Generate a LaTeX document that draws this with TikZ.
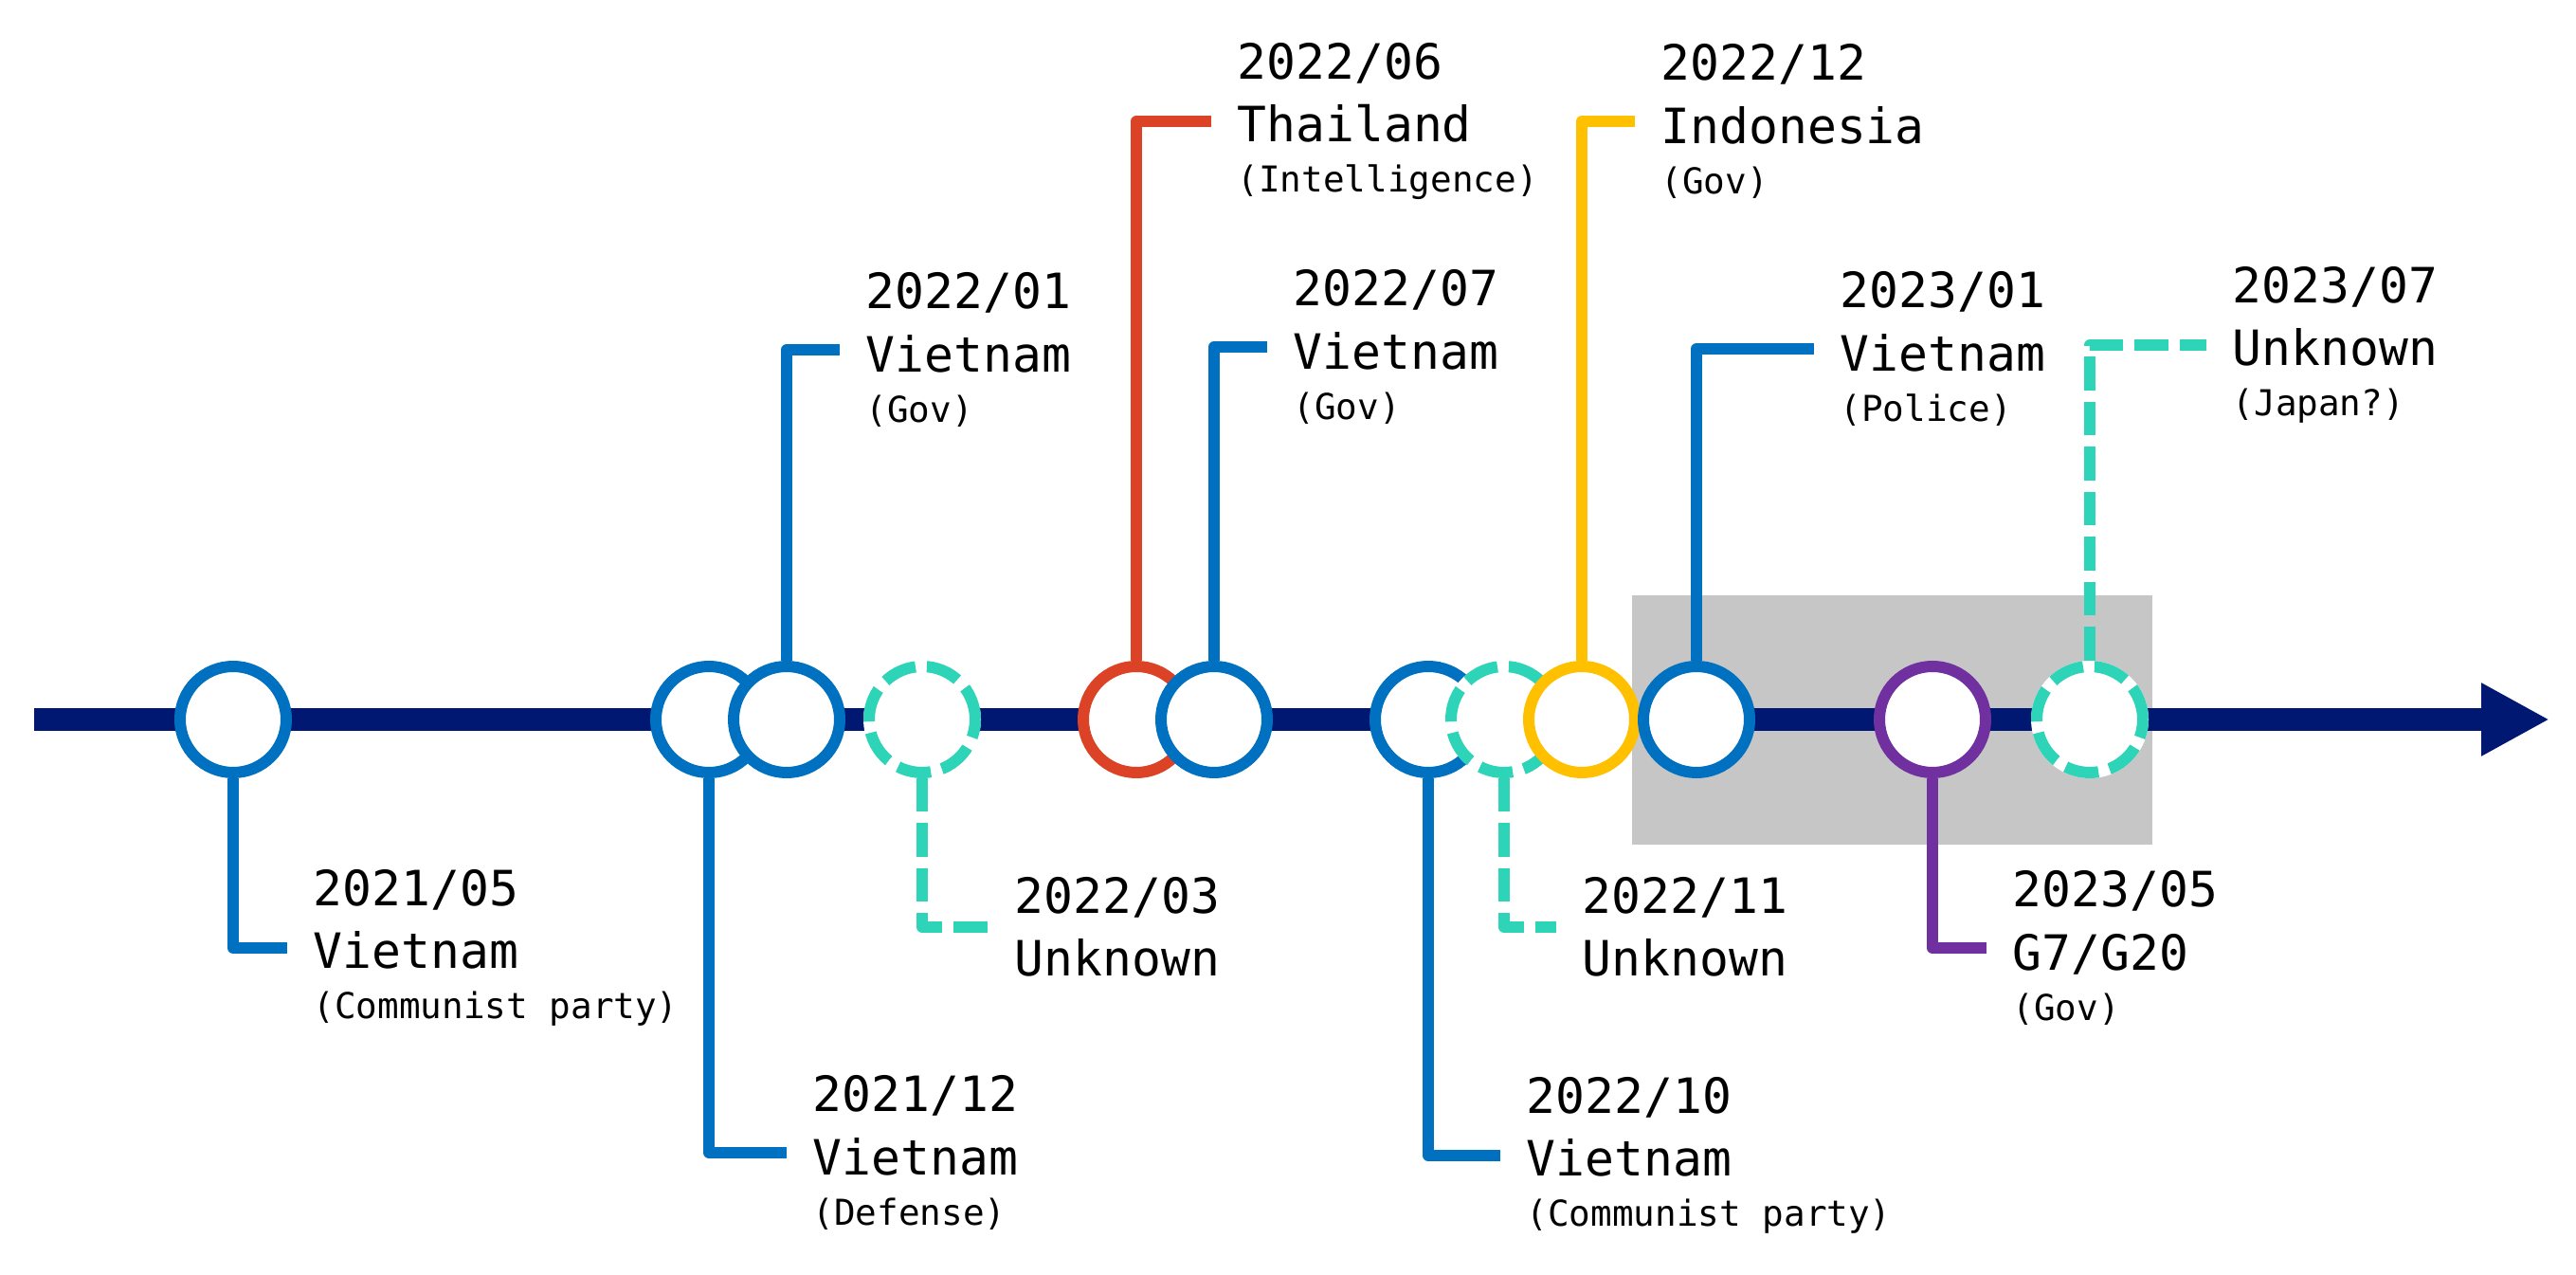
\documentclass[tikz,border=0pt]{standalone}
\usepackage{fontspec}
\setmainfont{DejaVu Sans Mono}
\usepackage{xcolor}
\usepackage{tikz}
\usetikzlibrary{arrows.meta}

\definecolor{axisnavy}{RGB}{0,24,113}
\definecolor{evblue}{RGB}{0,112,192}
\definecolor{evred}{RGB}{220,66,38}
\definecolor{evyellow}{RGB}{255,192,0}
\definecolor{evteal}{RGB}{45,212,183}
\definecolor{evpurple}{RGB}{112,48,160}
\definecolor{boxgray}{RGB}{198,198,198}

\newcommand{\detail}[1]{{\fontsize{10.7pt}{15.1pt}\selectfont #1}}

\begin{document}
\begin{tikzpicture}[
    event/.style={circle, draw=#1, fill=white, line width=0.12cm, minimum size=1.12cm, inner sep=0pt},
    unknown/.style={circle, draw=evteal, fill=white, line width=0.12cm, minimum size=1.12cm, inner sep=0pt,
        dash pattern=on 0.355cm off 0.12cm, preaction={draw=white, solid, line width=0.12cm}},
    info/.style={anchor=west, inner sep=0pt, align=left, font=\fontsize{14.6pt}{18.8pt}\selectfont},
    link/.style={draw=#1, line width=0.12cm, line join=round, shorten >=0.27cm},
    dashedlink/.style={link=evteal, dash pattern=on 0.355cm off 0.12cm}
]
    \useasboundingbox (0,-5.86) rectangle (27.18,7.59);

    \fill[boxgray] (17.22,1.31) rectangle (22.71,-1.32);

    \coordinate (start) at (0.36,0);
    \coordinate (end) at (26.90,0);
    \draw[axisnavy, line width=0.24cm, -{Triangle[length=0.72cm, width=0.72cm]}] (start) -- (end);

    \node[event=evblue] (may21) at (2.46,0) {};
    \node[event=evblue] (dec21) at (7.48,0) {};
    \node[event=evblue] (jan22) at (8.30,0) {};
    \node[unknown] (mar22) at (9.73,0) {};
    \node[event=evred] (jun22) at (11.99,0) {};
    \node[event=evblue] (jul22) at (12.81,0) {};
    \node[event=evblue] (oct22) at (15.07,0) {};
    \node[unknown] (nov22) at (15.87,0) {};
    \node[event=evyellow] (dec22) at (16.69,0) {};
    \node[event=evblue] (jan23) at (17.90,0) {};
    \node[event=evpurple] (may23) at (20.39,0) {};
    \node[unknown] (jul23) at (22.05,0) {};

    \node[info] (may21l) at (3.30,-2.41) {2021/05\\Vietnam\\[-3.7pt]\detail{(Communist party)}};
    \node[info] (dec21l) at (8.57,-4.57) {2021/12\\Vietnam\\[-3.7pt]\detail{(Defense)}};
    \node[info] (jan22l) at (9.13,3.90) {2022/01\\Vietnam\\[-3.7pt]\detail{(Gov)}};
    \node[info] (mar22l) at (10.70,-2.19) {2022/03\\Unknown};
    \node[info] (jun22l) at (13.05,6.31) {2022/06\\Thailand\\[-3.7pt]\detail{(Intelligence)}};
    \node[info] (jul22l) at (13.64,3.93) {2022/07\\Vietnam\\[-3.7pt]\detail{(Gov)}};
    \node[info] (oct22l) at (16.10,-4.60) {2022/10\\Vietnam\\[-3.7pt]\detail{(Communist party)}};
    \node[info] (nov22l) at (16.69,-2.19) {2022/11\\Unknown};
    \node[info] (dec22l) at (17.52,6.31) {2022/12\\Indonesia\\[-3.7pt]\detail{(Gov)}};
    \node[info] (jan23l) at (19.41,3.91) {2023/01\\Vietnam\\[-3.7pt]\detail{(Police)}};
    \node[info] (may23l) at (21.23,-2.41) {2023/05\\G7/G20\\[-3.7pt]\detail{(Gov)}};
    \node[info] (jul23l) at (23.55,3.95) {2023/07\\Unknown\\[-3.7pt]\detail{(Japan?)}};

    \draw[link=evblue] (may21) |- (may21l);
    \draw[link=evblue] (dec21) |- (dec21l);
    \draw[link=evblue] (jan22) |- (jan22l);
    \draw[dashedlink] (mar22) |- (mar22l);
    \draw[link=evred] (jun22) |- (jun22l);
    \draw[link=evblue] (jul22) |- (jul22l);
    \draw[link=evblue] (oct22) |- (oct22l);
    \draw[dashedlink] (nov22) |- (nov22l);
    \draw[link=evyellow] (dec22) |- (dec22l);
    \draw[link=evblue] (jan23) |- (jan23l);
    \draw[link=evpurple] (may23) |- (may23l);
    \draw[dashedlink] (jul23) |- (jul23l);
\end{tikzpicture}
\end{document}
